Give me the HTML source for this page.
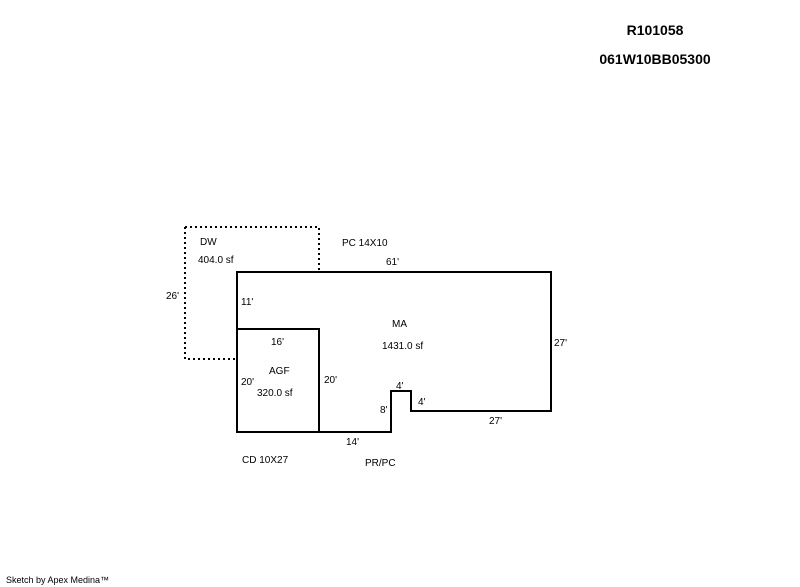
<!DOCTYPE html>
<html><head><style>
html,body{margin:0;padding:0;background:#fff;}
svg{display:block;}
text{font-family:"Liberation Sans",sans-serif;fill:#000;}
</style></head><body>
<svg width="800" height="587" viewBox="0 0 800 587" xmlns="http://www.w3.org/2000/svg">
<text x="655" y="35" font-size="14" font-weight="bold" text-anchor="middle">R101058</text>
<text x="655" y="64" font-size="14" font-weight="bold" text-anchor="middle">061W10BB05300</text>
<path d="M185,227 H319 V272 M185,227 V359 H237" fill="none" stroke="#000" stroke-width="2" stroke-dasharray="2,3"/>
<path d="M237,272 H551 V411 H411 V391 H391 V432 H237 Z" fill="none" stroke="#000" stroke-width="2"/>
<path d="M237,329 H319 V432" fill="none" stroke="#000" stroke-width="2"/>
<g font-size="10">
<text x="200" y="245">DW</text>
<text x="198" y="263">404.0 sf</text>
<text x="342" y="246">PC 14X10</text>
<text x="386" y="265">61'</text>
<text x="166" y="299">26'</text>
<text x="241" y="305">11'</text>
<text x="392" y="327">MA</text>
<text x="382" y="349">1431.0 sf</text>
<text x="554" y="346">27'</text>
<text x="271" y="345">16'</text>
<text x="269" y="374">AGF</text>
<text x="241" y="385">20'</text>
<text x="257" y="396">320.0 sf</text>
<text x="324" y="383">20'</text>
<text x="396" y="389">4'</text>
<text x="418" y="405">4'</text>
<text x="380" y="413">8'</text>
<text x="489" y="424">27'</text>
<text x="346" y="445">14'</text>
<text x="242" y="463">CD 10X27</text>
<text x="365" y="466">PR/PC</text>
<text x="6" y="583" font-size="9">Sketch by Apex Medina™</text>
</g>
</svg>
</body></html>
